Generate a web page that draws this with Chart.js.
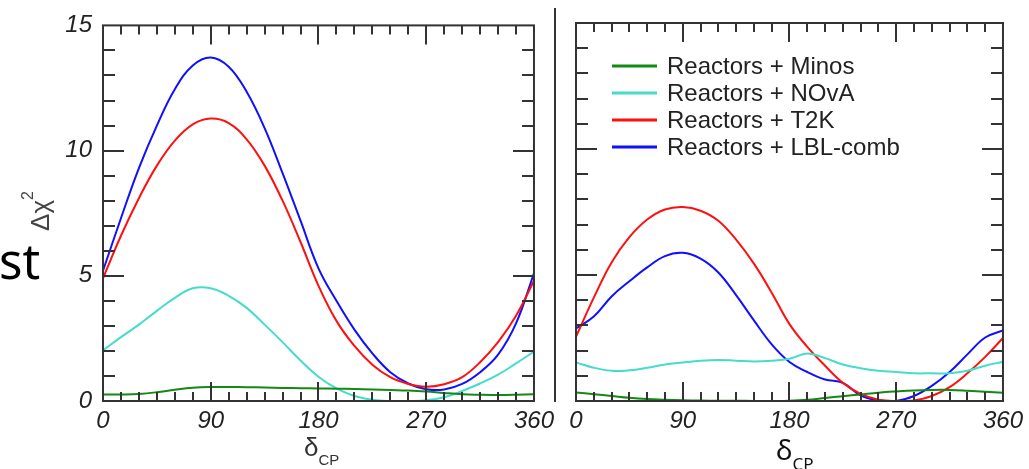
<!DOCTYPE html>
<html>
<head>
<meta charset="utf-8">
<script src="https://cdn.jsdelivr.net/npm/chart.js@4.4.0/dist/chart.umd.min.js"></script>
<style>
  body { margin: 0; background: #fff; width: 1029px; height: 469px; overflow: hidden; position: relative; font-family: "Liberation Sans", Arial, sans-serif; }
  canvas { position: absolute; top: 0; }
  #left { left: 0; }
  #right { left: 560px; }
  .sep { position: absolute; left: 554px; top: 8px; width: 2px; height: 394px; background: #333; }
  .st { position: absolute; left: -1px; top: 227px; font: 49px "Noto Sans", sans-serif; color: #000; }
  .ylab { position: absolute; left: 40px; top: 211px; transform: translate(-50%, -50%) rotate(-90deg); font: 26px "Liberation Sans", sans-serif; color: #444; white-space: nowrap; }
  .ylab sup { font-size: 16px; position: relative; top: -6px; }
  .xlab { position: absolute; white-space: nowrap; color: #333; }
  .xlab sub { position: relative; top: 3px; }
  #xl { left: 304px; top: 432px; font: 26px "Liberation Sans", sans-serif; }
  #xl sub { font-size: 15px; }
  #xr { left: 776px; top: 430px; font: 28px "Noto Sans", sans-serif; color: #111; }
  #xr sub { font-size: 17px; }
</style>
</head>
<body>
<canvas id="left" width="560" height="469"></canvas>
<canvas id="right" width="469" height="469"></canvas>
<div class="sep"></div>
<div class="st">st</div>
<div class="ylab">Δχ<sup>2</sup></div>
<div class="xlab" id="xl">δ<sub>CP</sub></div>
<div class="xlab" id="xr">δ<sub>CP</sub></div>
<script>
// delta_CP grid (degrees)
const delta = [0, 15, 30, 45, 60, 75, 90, 105, 120, 135, 150, 165, 180,
               195, 210, 225, 240, 255, 270, 285, 300, 315, 330, 345, 360];

// left panel
const minosL = [0.26, 0.26, 0.28, 0.35, 0.45, 0.53, 0.56, 0.56, 0.55, 0.54, 0.52, 0.51, 0.50,
                0.49, 0.48, 0.46, 0.44, 0.42, 0.38, 0.32, 0.27, 0.25, 0.24, 0.25, 0.27];
const novaL  = [2.02, 2.55, 3.05, 3.6, 4.12, 4.5, 4.5, 4.2, 3.72, 3.05, 2.35, 1.62, 0.97,
                0.5, 0.2, 0.05, 0.0, 0.0, 0.03, 0.15, 0.4, 0.7, 1.05, 1.5, 1.97];
const t2kL   = [4.9, 6.6, 8.1, 9.4, 10.4, 11.05, 11.28, 11.1, 10.45, 9.4, 8.0, 6.35, 4.6,
                3.2, 2.2, 1.45, 0.95, 0.68, 0.57, 0.67, 0.95, 1.55, 2.35, 3.4, 4.8];
const lblL   = [5.2, 7.3, 9.3, 11.0, 12.45, 13.4, 13.72, 13.35, 12.35, 10.9, 9.1, 7.2, 5.3,
                4.0, 2.85, 1.9, 1.15, 0.7, 0.47, 0.46, 0.68, 1.15, 1.85, 3.1, 5.1];

// right panel
const minosR = [0.34, 0.27, 0.2, 0.13, 0.08, 0.05, 0.03, 0.02, 0.01, 0.01, 0.0, 0.0, 0.01,
                0.05, 0.12, 0.19, 0.26, 0.33, 0.38, 0.42, 0.44, 0.44, 0.41, 0.37, 0.33];
const novaR  = [1.53, 1.32, 1.2, 1.22, 1.32, 1.45, 1.53, 1.6, 1.63, 1.6, 1.57, 1.6, 1.68,
                1.88, 1.7, 1.45, 1.3, 1.2, 1.15, 1.1, 1.1, 1.1, 1.2, 1.4, 1.56];
const t2kR   = [2.55, 4.1, 5.5, 6.5, 7.2, 7.6, 7.7, 7.55, 7.15, 6.4, 5.45, 4.3, 3.05,
                2.15, 1.4, 0.72, 0.28, 0.05, 0.0, 0.02, 0.2, 0.55, 1.1, 1.75, 2.5];
const lblR   = [2.88, 3.35, 4.15, 4.75, 5.3, 5.75, 5.88, 5.65, 5.1, 4.2, 3.2, 2.25, 1.55,
                1.15, 0.85, 0.72, 0.22, 0.02, 0.0, 0.2, 0.6, 1.15, 1.85, 2.52, 2.8];

const seriesLabels = ["Reactors + Minos", "Reactors + NOvA", "Reactors + T2K", "Reactors + LBL-comb"];
const seriesColors = ["#138a13", "#45dccb", "#ff1010", "#1010ff"];
const xTicks = [0, 90, 180, 270, 360];
const yTicks = [0, 5, 10, 15];

Chart.defaults.font.family = '"Liberation Sans", Arial, sans-serif';
Chart.defaults.color = '#222';

// frame with inward tick marks on all four sides, plus optional legend
const framePlugin = {
  id: 'frame',
  afterDatasetsDraw(chart, args, opts) {
    const { ctx, chartArea: a, scales: { x, y } } = chart;
    ctx.save();
    ctx.strokeStyle = '#333';
    ctx.lineWidth = 2;
    ctx.beginPath();
    for (let v = 15; v < 360; v += 15) {
      const px = Math.round(x.getPixelForValue(v));
      const len = v % 90 === 0 ? 19 : 9;
      ctx.moveTo(px, a.bottom); ctx.lineTo(px, a.bottom - len);
      ctx.moveTo(px, a.top); ctx.lineTo(px, a.top + len);
    }
    for (let v = 1; v < 15; v++) {
      const py = Math.round(y.getPixelForValue(v));
      const len = v % 5 === 0 ? 21 : 12;
      ctx.moveTo(a.left, py); ctx.lineTo(a.left + len, py);
      ctx.moveTo(a.right, py); ctx.lineTo(a.right - len, py);
    }
    ctx.stroke();
    ctx.strokeRect(a.left, a.top, a.right - a.left, a.bottom - a.top);

    if (opts.legend) {
      ctx.font = '24px "Liberation Sans", Arial, sans-serif';
      ctx.textBaseline = 'middle';
      ctx.fillStyle = '#222';
      chart.data.datasets.forEach((ds, i) => {
        const yy = 66 + i * 27;
        ctx.strokeStyle = ds.borderColor;
        ctx.lineWidth = 3;
        ctx.beginPath();
        ctx.moveTo(52, yy); ctx.lineTo(97, yy);
        ctx.stroke();
        ctx.fillText(ds.label, 107, yy + 1);
      });
    }
    ctx.restore();
  }
};

function makeChart(id, series, yWidth, padRight, showY, legend) {
  return new Chart(document.getElementById(id), {
    type: 'line',
    data: {
      labels: delta,
      datasets: series.map((s, i) => ({
        label: seriesLabels[i],
        data: delta.map((d, j) => ({ x: d, y: s[j] })),
        borderColor: seriesColors[i],
        borderWidth: 2,
        pointRadius: 0,
        fill: false,
        tension: 0.4
      }))
    },
    options: {
      responsive: false,
      animation: false,
      layout: { padding: { top: 23, right: padRight, left: 0, bottom: 0 } },
      plugins: { legend: { display: false }, tooltip: { enabled: false }, frame: { legend } },
      scales: {
        x: {
          type: 'linear', min: 0, max: 360,
          afterBuildTicks: s => { s.ticks = xTicks.map(v => ({ value: v })); },
          afterFit: s => { s.height = 68; },
          grid: { display: false, drawTicks: false },
          border: { display: false },
          ticks: { padding: 6, maxRotation: 0, autoSkip: false, color: '#222',
                   font: { size: 24, style: 'italic' } }
        },
        y: {
          type: 'linear', min: 0, max: 15,
          afterBuildTicks: s => { s.ticks = yTicks.map(v => ({ value: v })); },
          afterFit: s => { s.width = yWidth; },
          grid: { display: false, drawTicks: false },
          border: { display: false },
          ticks: { display: showY, padding: 11, color: '#222',
                   font: { size: 24, style: 'italic' } }
        }
      }
    },
    plugins: [framePlugin]
  });
}

makeChart('left', [minosL, novaL, t2kL, lblL], 103, 26, true, false);
makeChart('right', [minosR, novaR, t2kR, lblR], 16, 23, false, true);
</script>
</body>
</html>
